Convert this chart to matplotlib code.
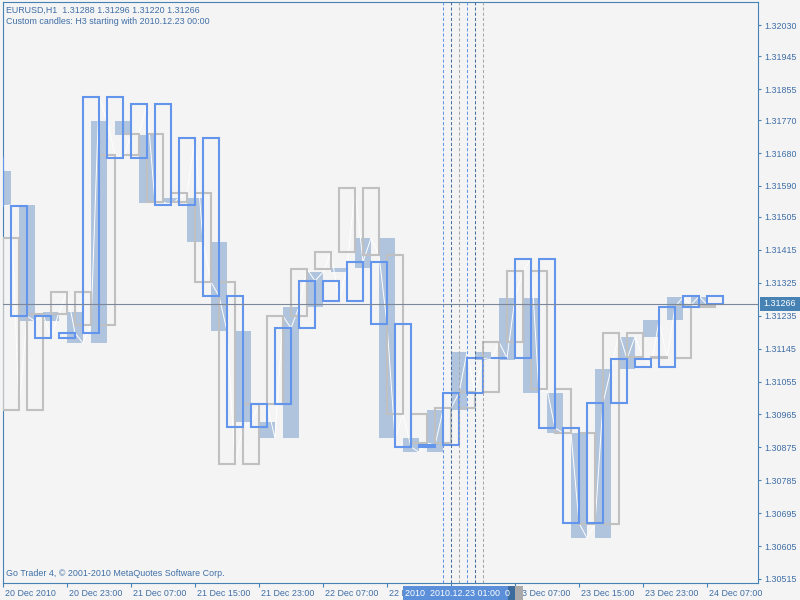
import matplotlib
matplotlib.use("Agg")
import matplotlib.pyplot as plt
from matplotlib.patches import Rectangle
from matplotlib.transforms import ScaledTranslation, Bbox

plt.rcParams['font.family'] = ['Liberation Sans', 'DejaVu Sans']

header = "EURUSD,H1  1.31288 1.31296 1.31220 1.31266"
subheader = "Custom candles: H3 starting with 2010.12.23 00:00"
footer = "Go Trader 4, \u00a9 2001-2010 MetaQuotes Software Corp."

# three H3 candle series, each shifted one hour (x = hours since 20 Dec 15:00)
gray_start = 0
gray_open0 = 1.31447
gray_close = [1.30977, 1.31240, 1.31300, 1.31210, 1.31674, 1.31732, 1.31546, 1.31571,
              1.31327, 1.30829, 1.30993, 1.31234, 1.31363, 1.31409, 1.31584, 1.31401,
              1.30966, 1.30887, 1.30983, 1.31026, 1.31163, 1.31357, 1.31034, 1.30914,
              1.30665, 1.31188, 1.31122, 1.31119, 1.31264, 1.31259]

blue_start = -2
blue_open0 = 1.31666
blue_close = [1.31535, 1.31234, 1.31174, 1.31188, 1.31833, 1.31666, 1.31814, 1.31538,
              1.31721, 1.31289, 1.30931, 1.30993, 1.31201, 1.31330, 1.31275, 1.31382,
              1.31212, 1.30876, 1.30881, 1.31024, 1.31119, 1.31119, 1.31390, 1.30928,
              1.30668, 1.30996, 1.31117, 1.31095, 1.31259, 1.31288, 1.31266]

fill_start = -1
fill_open0 = 1.31631
fill_close = [1.31538, 1.31220, 1.31245, 1.31160, 1.31767, 1.31729, 1.31543, 1.31557,
              1.31437, 1.31193, 1.30944, 1.30900, 1.31259, 1.31354, 1.31365, 1.31447,
              1.30900, 1.30862, 1.30977, 1.31136, 1.31114, 1.31283, 1.31024, 1.30914,
              1.30627, 1.31089, 1.31177, 1.31223, 1.31286, 1.31266]

last_price = 1.31266
last_hour = 88

price_ticks = [1.30515, 1.30605, 1.30695, 1.30785, 1.30875, 1.30965, 1.31055, 1.31145,
               1.31235, 1.31325, 1.31415, 1.31505, 1.31590, 1.31680, 1.31770, 1.31855,
               1.31945, 1.32030]
time_ticks = [0, 8, 16, 24, 32, 40, 48, 56, 64, 72, 80, 88]
time_labels = ["20 Dec 2010", "20 Dec 23:00", "21 Dec 07:00", "21 Dec 15:00",
               "21 Dec 23:00", "22 Dec 07:00", "22 Dec 15:00", "22 Dec 23:00",
               "23 Dec 07:00", "23 Dec 15:00", "23 Dec 23:00", "24 Dec 07:00"]
vline_hours = [55, 56, 57, 58, 59, 60]
vline_colors = ['#6495ED', '#4A6F9C', '#A8A8A8'] * 2
axis_label = "2010  2010.12.23 01:00  0"

bg = '#F4F4F4'
txt = '#3F6EA6'
frame = '#4682B4'
fs = 6.4

fig = plt.figure(figsize=(8, 6), dpi=100, facecolor=bg)
ax = fig.add_axes([3/800, 17/600, 755/800, 581/600], facecolor=bg)


def candles(start, open0, closes):
    opens = [open0] + closes[:-1]
    xs = [start + 3*i for i in range(len(closes))]
    bottoms = [min(o, c) for o, c in zip(opens, closes)]
    heights = [abs(c - o) for o, c in zip(opens, closes)]
    return xs, bottoms, heights


x, b, h = candles(fill_start, fill_open0, fill_close)
ax.bar(x, h, width=2, bottom=b, align='edge', color='#B0C4DE', linewidth=0, zorder=1)

# H1 closes as a thin white line
pts = []
for start, closes in ((gray_start, gray_close), (blue_start, blue_close), (fill_start, fill_close)):
    for i, c in enumerate(closes):
        pts.append((start + 3*i + 2, c))
pts = sorted(p for p in pts if p[0] <= last_hour)
ax.plot([p[0] for p in pts], [p[1] for p in pts], color='white', lw=0.7, zorder=2)

x, b, h = candles(gray_start, gray_open0, gray_close)
ax.bar(x, h, width=2, bottom=b, align='edge', fill=False, edgecolor='#C0C0C0',
       linewidth=1.5, zorder=3)
x, b, h = candles(blue_start, blue_open0, blue_close)
ax.bar(x, h, width=2, bottom=b, align='edge', fill=False, edgecolor='#6495ED',
       linewidth=1.5, zorder=4)

for hr, col in zip(vline_hours, vline_colors):
    ax.axvline(hr, color=col, lw=0.75, ls=(0, (3, 2)), zorder=5)
ax.axhline(last_price, color='#7A8899', lw=0.8, zorder=6)

ax.set_xlim(0, 755/8)
ax.set_ylim(1.30504, 1.32093)
for s in ax.spines.values():
    s.set_color(frame)
    s.set_linewidth(0.8)

ax.yaxis.tick_right()
ax.set_yticks(price_ticks)
ax.set_yticklabels([f"{p:.5f}" for p in price_ticks])
ax.tick_params(axis='y', direction='out', length=2.5, width=0.8, color=frame,
               labelcolor=txt, labelsize=fs, pad=2)
ax.set_xticks(time_ticks)
ax.set_xticklabels(time_labels, ha='left')
ax.tick_params(axis='x', direction='out', length=3, width=0.8, color=frame,
               labelcolor=txt, labelsize=fs, pad=1)
offset = ScaledTranslation(2/100, 0, fig.dpi_scale_trans)
for lab in ax.get_xticklabels():
    lab.set_transform(lab.get_transform() + offset)

# the selected-line labels on the time scale hide what lies under them
covered = Bbox.from_extents(403, 0, 523, 17)
labels = ax.get_xticklabels()
labels[7].set_visible(False)
labels[6].set_clip_box(Bbox.from_extents(0, 0, 403, 17))
labels[6].set_clip_on(True)

fig.text(6/800, 1 - 10/600, header, fontsize=fs, color=txt, va='center')
fig.text(6/800, 1 - 21/600, subheader, fontsize=fs, color=txt, va='center')
fig.text(6/800, 1 - 574/600, footer, fontsize=fs, color=txt, va='center')

# current price marker on the price scale
fig.add_artist(Rectangle((760/800, 1 - 311/600), 40/800, 14/600,
                         transform=fig.transFigure, fc=frame, ec='none'))
fig.text(763/800, 1 - 304/600, f"{last_price:.5f}", color='white', fontsize=fs, va='center')

# selected vertical line labels on the time scale
fig.add_artist(Rectangle((403/800, 0), 105/800, 14/600, transform=fig.transFigure,
                         fc='#5B8FD9', ec='none'))
fig.add_artist(Rectangle((508/800, 0), 7/800, 14/600, transform=fig.transFigure,
                         fc='#3C6C9E', ec='none'))
fig.add_artist(Rectangle((515/800, 0), 8/800, 14/600, transform=fig.transFigure,
                         fc='#A9A9A9', ec='none'))
fig.text(405/800, 1 - 593/600, axis_label, color='white', fontsize=fs, va='center')

fig.savefig('out.png', dpi=100, facecolor=bg)
